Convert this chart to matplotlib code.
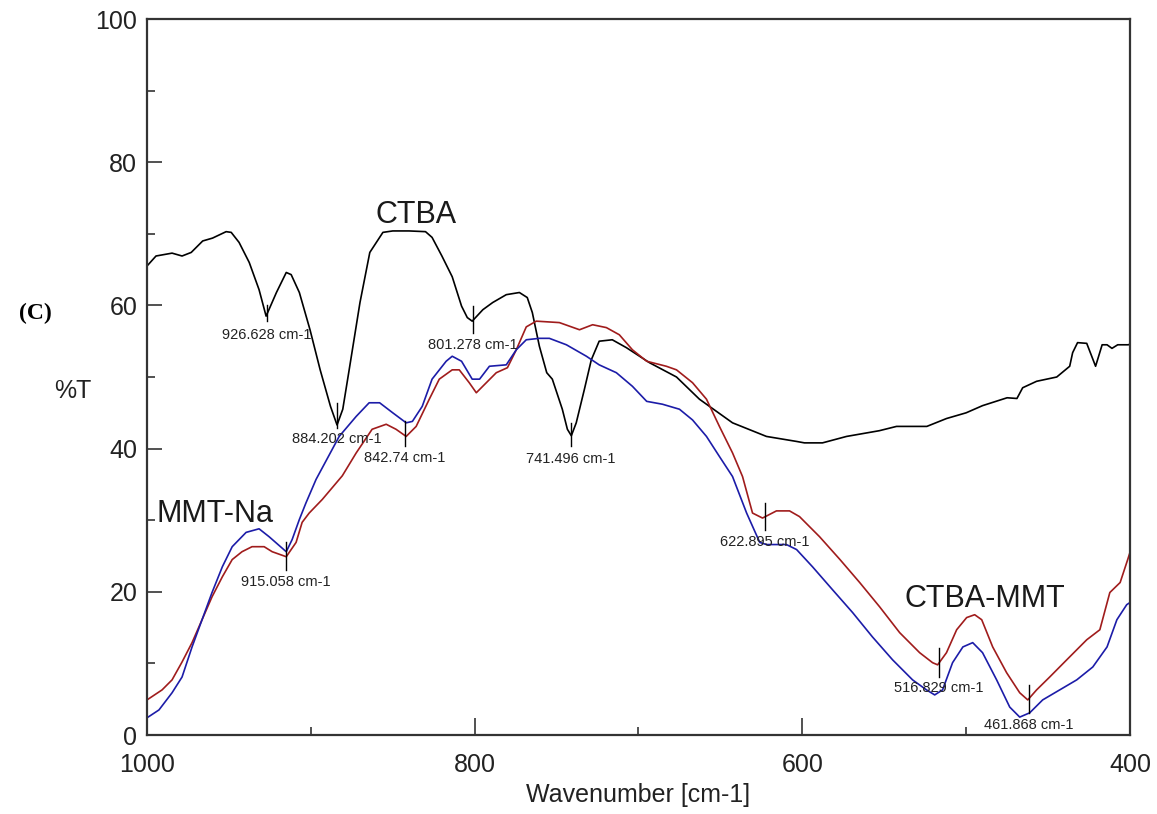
import matplotlib
matplotlib.use("Agg")
import matplotlib.pyplot as plt
from matplotlib.ticker import MultipleLocator

plt.rcParams['font.family'] = ['Liberation Sans', 'DejaVu Sans']

# CTBA (black)
ctba_wn = [1000, 994.5, 984.7, 978.6, 973, 966, 960, 951.7, 948.6, 943.8,
           937.6, 931.6, 927.3, 921, 915, 912, 907, 900.5, 894.3, 888,
           884, 880.5, 876.6, 870, 864, 856, 850, 840, 830, 826,
           820, 813.7, 808, 804.5, 801.5, 795, 789, 780.7, 772.7, 767.9,
           764.8, 760.5, 756, 752.6, 746.5, 743.4, 741, 738, 733, 728.8,
           724, 716, 707.4, 693.3, 676.8, 662.8, 642.6, 621.9, 603.5, 598.7,
           587.7, 573, 553, 542.5, 524, 512, 500, 490, 475, 469,
           465.5, 457, 444.7, 436.8, 435, 432, 426.4, 421, 417, 414,
           411, 407.5, 401, 400]
ctba_t = [65.5, 66.9, 67.3, 66.9, 67.4, 69, 69.4, 70.3, 70.2, 68.8,
          66, 62.2, 58.5, 61.8, 64.6, 64.3, 61.8, 56.6, 51, 45.9,
          43.3, 45.5, 51, 60.4, 67.4, 70.2, 70.4, 70.4, 70.3, 69.5,
          66.9, 64, 59.9, 58.3, 57.8, 59.4, 60.4, 61.5, 61.8, 61.1,
          59.0, 54.3, 50.6, 49.7, 45.5, 42.7, 41.8, 43.6, 48.3, 52.4,
          55, 55.2, 54.1, 52, 50, 46.9, 43.6, 41.7, 41, 40.8,
          40.8, 41.7, 42.5, 43.1, 43.1, 44.2, 45, 46, 47.1, 47,
          48.5, 49.4, 50, 51.5, 53.4, 54.8, 54.7, 51.5, 54.5, 54.5,
          54, 54.5, 54.5, 54.6]

# CTBA-MMT (red)
mix_wn = [1000, 990.8, 984.7, 978.6, 972.5, 966.4, 960.3, 954, 948, 942,
          935.9, 928.5, 923.6, 915, 909, 905.3, 901, 893, 880.8, 872.3,
          862.6, 854, 848, 841.8, 835.7, 827.7, 821.6, 813.7, 809.4, 803.3,
          799, 792.9, 786.8, 780, 774.6, 768.5, 762.4, 748.3, 736, 728,
          719.6, 711.7, 703.7, 695, 683, 676.8, 667, 658.5, 650.6, 642.6,
          636.5, 630.4, 624.3, 615.8, 607.8, 601.7, 589.5, 577, 565, 552.8,
          540.6, 528.4, 520.5, 517.4, 512, 505.8, 499.7, 494.8, 490.5, 483.8,
          475.3, 467.3, 462.4, 457, 449, 438.6, 426.4, 418.4, 412.3, 406,
          401.4, 400]
mix_t = [4.9, 6.3, 7.7, 10.2, 12.9, 16.1, 19.3, 22.1, 24.5, 25.6,
         26.3, 26.3, 25.6, 24.9, 26.9, 29.7, 31, 32.9, 36.2, 39.4,
         42.7, 43.4, 42.7, 41.7, 43.1, 46.9, 49.7, 51, 51, 49.2,
         47.8, 49.2, 50.6, 51.3, 53.8, 57, 57.8, 57.6, 56.6, 57.3,
         56.9, 55.9, 53.8, 52.2, 51.5, 51, 49.2, 46.9, 43.1, 39.4,
         36.1, 31, 30.3, 31.3, 31.3, 30.5, 27.7, 24.5, 21.3, 17.9,
         14.3, 11.5, 10.1, 9.8, 11.5, 14.7, 16.4, 16.8, 16.1, 12.3,
         8.7, 5.9, 4.9, 6.3, 8.1, 10.5, 13.3, 14.7, 19.9, 21.3,
         24.5, 25.5]

# MMT-Na (blue)
mmt_wn = [1000, 992.7, 984.7, 978.6, 972.5, 966.4, 960.3, 954, 948, 939.5,
          931.6, 925.5, 915, 911.4, 907, 903, 896.8, 882.7, 872.3, 864.4,
          858, 850, 841.8, 838, 832, 826, 817.4, 813.7, 808, 801.5,
          797, 791, 780.7, 774.6, 768.5, 760.5, 754.4, 744, 731.8, 724,
          713.5, 703.7, 695, 685.4, 675, 667, 658.5, 650.6, 642.6, 634,
          626, 621.9, 609.7, 603.5, 593.8, 581.6, 569.3, 557.2, 544.9, 532.7,
          524.2, 519.2, 514.4, 508.3, 502, 496, 490, 481.4, 473.4, 467.3,
          461.2, 453.3, 442.9, 432.5, 422.7, 414, 408, 402, 400]
mmt_t = [2.4, 3.5, 5.9, 8.1, 12.3, 16.1, 19.9, 23.5, 26.3, 28.3,
         28.8, 27.7, 25.6, 27.3, 30.1, 32.4, 35.7, 41.7, 44.5, 46.4,
         46.4, 45, 43.6, 43.8, 45.9, 49.7, 52.2, 52.9, 52.2, 49.7,
         49.7, 51.5, 51.7, 53.8, 55.2, 55.4, 55.4, 54.5, 52.9, 51.7,
         50.6, 48.7, 46.6, 46.2, 45.5, 44, 41.7, 38.9, 36.1, 31,
         26.9, 26.6, 26.6, 25.9, 23.5, 20.3, 17.1, 13.7, 10.5, 7.7,
         6.3, 5.6, 6.3, 10.1, 12.3, 12.9, 11.5, 7.7, 3.9, 2.5,
         3.1, 4.9, 6.3, 7.7, 9.5, 12.3, 16.1, 18.2, 18.5]

# peak picks: position, marker top / bottom (%T), label text, label level (%T)
peak_wn = [926.628, 884.202, 842.74, 801.278, 741.496, 915.058, 622.895, 516.829, 461.868]
peak_top = [60.1, 46.4, 43.8, 59.9, 43.6, 26.9, 32.4, 12.2, 7.0]
peak_bot = [57.8, 42.9, 40.3, 56.2, 40.3, 23.1, 28.7, 8.1, 3.1]
peak_text = ['926.628 cm-1', '884.202 cm-1', '842.74 cm-1', '801.278 cm-1', '741.496 cm-1',
             '915.058 cm-1', '622.895 cm-1', '516.829 cm-1', '461.868 cm-1']
peak_label_t = [55.9, 41.3, 38.7, 54.5, 38.5, 21.4, 27.0, 6.6, 1.4]

series_names = ['CTBA', 'MMT-Na', 'CTBA-MMT']
name_wn = [835.7, 958.5, 488.7]
name_t = [72.6, 30.9, 19.0]

fig = plt.figure(figsize=(11.57, 8.14), dpi=100)
ax = fig.add_axes([0.12705, 0.09705, 0.8496, 0.8796])

ax.plot(ctba_wn, ctba_t, color='black', lw=1.2)
ax.plot(mix_wn, mix_t, color='#a01c1c', lw=1.2)
ax.plot(mmt_wn, mmt_t, color='#1c1ca8', lw=1.2)

for wn, top, bot, txt, lt in zip(peak_wn, peak_top, peak_bot, peak_text, peak_label_t):
    ax.plot([wn, wn], [bot, top], color='black', lw=1.0)
    ax.text(wn, lt, txt, ha='center', va='center', fontsize=10.5, color='#222222')

for name, wn, t in zip(series_names, name_wn, name_t):
    ax.text(wn, t, name, ha='center', va='center', fontsize=22, color='#1a1a1a')

ax.set_xlim(1000, 400)
ax.set_ylim(0, 100)
ax.xaxis.set_major_locator(MultipleLocator(200))
ax.xaxis.set_minor_locator(MultipleLocator(100))
ax.yaxis.set_major_locator(MultipleLocator(20))
ax.yaxis.set_minor_locator(MultipleLocator(10))
ax.tick_params(axis='both', which='both', direction='in', colors='#333333',
               labelcolor='#222222', labelsize=18, width=1.2)
ax.tick_params(axis='x', which='major', length=12, pad=13)
ax.tick_params(axis='x', which='minor', length=6)
ax.tick_params(axis='y', which='major', length=11, pad=7)
ax.tick_params(axis='y', which='minor', length=5.5)
for sp in ax.spines.values():
    sp.set_color('#333333')
    sp.set_linewidth(1.6)

ax.set_xlabel('Wavenumber [cm-1]', fontsize=18, color='#222222', labelpad=4)
fig.text(73 / 1157, 1 - 391 / 814, '%T', fontsize=18, color='#222222', ha='center', va='center')
fig.text(35 / 1157, 1 - 313 / 814, '(C)', fontsize=17, fontweight='bold',
         family=['Liberation Serif', 'DejaVu Serif'], ha='center', va='center')

fig.savefig('out.png', dpi=100)
